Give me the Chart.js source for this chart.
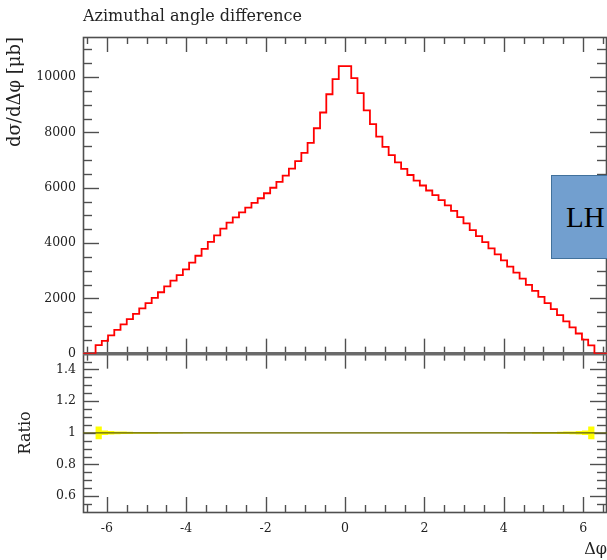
<!DOCTYPE html>
<html>
<head>
<meta charset="utf-8">
<script src="https://cdn.jsdelivr.net/npm/chart.js@4.4.1/dist/chart.umd.min.js"></script>
<style>
  html, body { margin: 0; padding: 0; background: #fff; }
  #wrap { position: relative; width: 607px; height: 560px; overflow: hidden; }
  #plot { display: block; }
  #tag {
    position: absolute; left: 551px; top: 175px; width: 90px; height: 84px;
    box-sizing: border-box; background: #729fcf; border: 1px solid #41719c;
    font: 29px "Liberation Serif", serif; line-height: 82px; padding-left: 14px; color: #000;
  }
</style>
</head>
<body>
<div id="wrap">
  <canvas id="plot" width="607" height="560"></canvas>
  <div id="tag">LH</div>
</div>
<script>
const plotTitle = "Azimuthal angle difference";
const yTitle = "dσ/dΔφ [μb]";
const ratioTitle = "Ratio";
const xTitle = "Δφ";

// 80 bins between -2pi and 2pi
const binLo = -2 * Math.PI;
const binHi = 2 * Math.PI;
const xRange = [-6.6, 6.6];

const dsigma = [
  310, 460, 660, 860, 1060, 1250, 1440, 1640, 1830, 2020,
  2220, 2430, 2640, 2840, 3050, 3290, 3540, 3790, 4040, 4280,
  4520, 4740, 4930, 5110, 5280, 5450, 5620, 5800, 6000, 6210,
  6440, 6690, 6960, 7260, 7620, 8150, 8720, 9380, 9930, 10400,
  10400, 9960, 9420, 8800, 8300, 7850, 7480, 7180, 6920, 6680,
  6460, 6260, 6080, 5900, 5730, 5550, 5360, 5160, 4940, 4710,
  4470, 4250, 4030, 3810, 3590, 3370, 3150, 2930, 2710, 2490,
  2270, 2050, 1830, 1610, 1390, 1170, 950, 730, 510, 300
];

// relative stat. uncertainty per bin (yellow band in the ratio panel)
const ratioErr = [
  0.040, 0.014, 0.011, 0.009, 0.008, 0.007, 0.006, 0.006, 0.005, 0.005,
  0.004, 0.004, 0.004, 0.004, 0.003, 0.003, 0.003, 0.003, 0.003, 0.003,
  0.002, 0.002, 0.002, 0.002, 0.002, 0.002, 0.002, 0.002, 0.002, 0.002,
  0.002, 0.002, 0.002, 0.002, 0.002, 0.002, 0.002, 0.002, 0.002, 0.002,
  0.002, 0.002, 0.002, 0.002, 0.002, 0.002, 0.002, 0.002, 0.002, 0.002,
  0.002, 0.002, 0.002, 0.002, 0.002, 0.002, 0.002, 0.002, 0.002, 0.002,
  0.003, 0.003, 0.003, 0.003, 0.003, 0.003, 0.004, 0.004, 0.004, 0.004,
  0.005, 0.005, 0.006, 0.006, 0.007, 0.008, 0.009, 0.011, 0.014, 0.040
];

const xTicks = [-6, -4, -2, 0, 2, 4, 6];
const yTicks = [0, 2000, 4000, 6000, 8000, 10000];
const ratioTicks = [0.6, 0.8, 1, 1.2, 1.4];

const binW = (binHi - binLo) / dsigma.length;

// histogram as left-edge points, flat value outside the binned range
function histPoints(vals, outside) {
  const pts = [{ x: xRange[0], y: outside }];
  vals.forEach((v, i) => pts.push({ x: binLo + i * binW, y: v }));
  pts.push({ x: binHi, y: outside });
  pts.push({ x: xRange[1], y: outside });
  return pts;
}

const serif = '"DejaVu Serif", serif';
const tickFont = { family: serif, size: 12.5 };
const titleFont = { family: serif, size: 16 };
const frameColor = "#4f4f4f";

function setTicks(values) {
  return (scale) => { scale.ticks = values.map((v) => ({ value: v })); };
}

// Rivet-like frame: inward ticks on all four sides of both panels
const framePlugin = {
  id: "frame",
  beforeDatasetsDraw(chart) {
    const { ctx, chartArea } = chart;
    const x = chart.scales.x, y = chart.scales.y, r = chart.scales.yRatio;
    const L = chartArea.left, R = chartArea.right - 1;
    ctx.save();
    ctx.strokeStyle = frameColor;
    ctx.lineWidth = 1.4;

    const line = (x1, y1, x2, y2) => {
      ctx.beginPath(); ctx.moveTo(x1, y1); ctx.lineTo(x2, y2); ctx.stroke();
    };

    [[y.top, y.bottom], [r.top, r.bottom]].forEach(([top, bot]) => {
      for (let k = -13; k <= 13; k++) {
        const px = Math.round(x.getPixelForValue(k * 0.5)) + 0.5;
        const len = k % 4 === 0 ? 15 : 7;
        line(px, top, px, top + len);
        line(px, bot, px, bot - len);
      }
    });

    for (let k = 1; k <= 22; k++) {
      const py = Math.round(y.getPixelForValue(k * 500)) + 0.5;
      const len = k % 4 === 0 ? 16 : 9;
      line(L, py, L + len, py);
      line(R, py, R - len, py);
    }
    for (let k = 11; k <= 29; k++) {
      const py = Math.round(r.getPixelForValue(k * 0.05)) + 0.5;
      const len = k % 4 === 0 ? 16 : 9;
      line(L, py, L + len, py);
      line(R, py, R - len, py);
    }

    ctx.lineWidth = 1.6;
    ctx.strokeRect(L + 0.5, y.top + 0.5, R - L, r.bottom - y.top);
    ctx.strokeStyle = "#6a6a6a";
    ctx.lineWidth = 3.5;
    line(L, y.bottom, R + 1, y.bottom);
    ctx.restore();
  },
  afterDraw(chart) {
    const ctx = chart.ctx;
    ctx.save();
    ctx.fillStyle = "#222";
    ctx.font = '16px "DejaVu Serif"';
    ctx.textBaseline = "alphabetic";
    ctx.fillText(plotTitle, chart.chartArea.left, 21);
    ctx.restore();
  }
};

new Chart(document.getElementById("plot"), {
  type: "line",
  data: {
    datasets: [
      {
        data: histPoints(dsigma, 0),
        yAxisID: "y",
        stepped: "before",
        borderColor: "#ff0000",
        borderWidth: 1.8,
        pointRadius: 0,
        fill: false
      },
      {
        data: [{ x: xRange[0], y: 1 }, { x: xRange[1], y: 1 }],
        yAxisID: "yRatio",
        borderColor: "#5c5c12",
        borderWidth: 1.2,
        pointRadius: 0,
        fill: false
      },
      {
        data: histPoints(ratioErr.map((e) => 1 + e), 1),
        yAxisID: "yRatio",
        stepped: "before",
        borderWidth: 0,
        borderColor: "rgba(0,0,0,0)",
        pointRadius: 0,
        fill: false
      },
      {
        data: histPoints(ratioErr.map((e) => 1 - e), 1),
        yAxisID: "yRatio",
        stepped: "before",
        borderWidth: 0,
        borderColor: "rgba(0,0,0,0)",
        backgroundColor: "#ffff00",
        pointRadius: 0,
        fill: "-1"
      }
    ]
  },
  options: {
    responsive: false,
    animation: false,
    layout: { padding: { top: 37, left: 0, right: 0, bottom: 0 } },
    plugins: { legend: { display: false }, tooltip: { enabled: false } },
    scales: {
      x: {
        type: "linear",
        min: xRange[0],
        max: xRange[1],
        afterBuildTicks: setTicks(xTicks),
        afterFit: (s) => { s.height = 48; },
        grid: { display: false, drawTicks: false },
        border: { display: false },
        ticks: { font: tickFont, color: "#222", padding: 9, maxRotation: 0, callback: (v) => String(v) },
        title: { display: true, text: xTitle, align: "end", font: titleFont, color: "#222", padding: { top: 0, bottom: 1 } }
      },
      y: {
        type: "linear",
        position: "left",
        stack: "panels",
        stackWeight: 2,
        weight: 2,
        min: 0,
        max: 11450,
        afterBuildTicks: setTicks(yTicks),
        afterFit: (s) => { s.width = 83; },
        grid: { display: false, drawTicks: false },
        border: { display: false },
        ticks: { font: tickFont, color: "#222", padding: 7, callback: (v) => String(v) },
        title: { display: true, text: yTitle, align: "end", font: { family: serif, size: 18 }, color: "#222", padding: { top: 5, bottom: 0 } }
      },
      yRatio: {
        type: "linear",
        position: "left",
        stack: "panels",
        stackWeight: 1,
        weight: 1,
        min: 0.5,
        max: 1.5,
        afterBuildTicks: setTicks(ratioTicks),
        afterFit: (s) => { s.width = 83; },
        grid: { display: false, drawTicks: false },
        border: { display: false },
        ticks: { font: tickFont, color: "#222", padding: 7, callback: (v) => String(v) },
        title: { display: true, text: ratioTitle, align: "center", font: titleFont, color: "#222", padding: { top: 16, bottom: 0 } }
      }
    }
  },
  plugins: [framePlugin]
});
</script>
</body>
</html>
